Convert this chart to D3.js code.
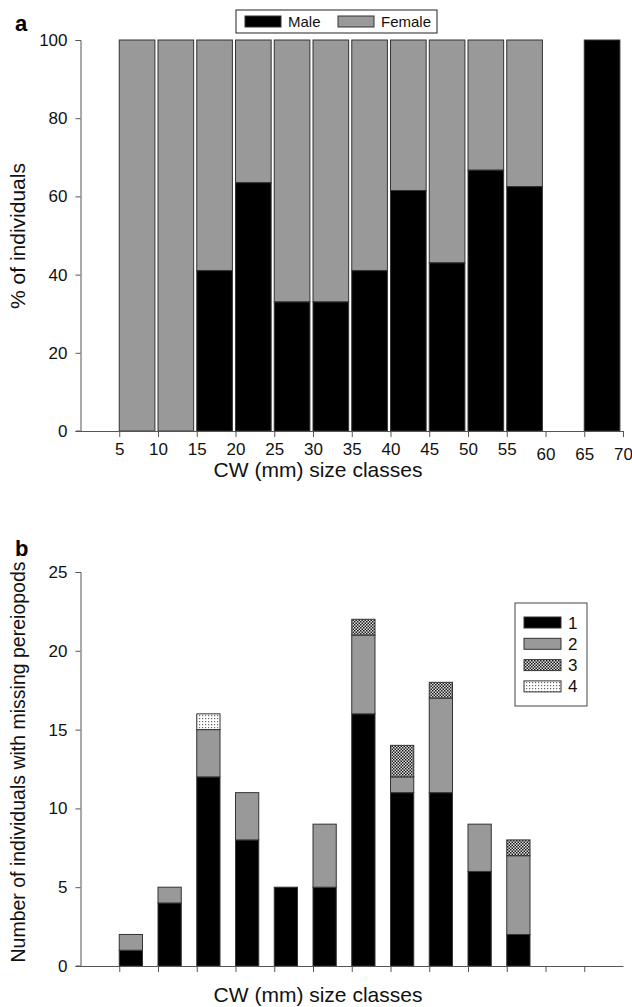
<!DOCTYPE html>
<html>
<head>
<meta charset="utf-8">
<script src="https://cdn.jsdelivr.net/npm/d3@7"></script>
<style>
  body { margin: 0; background: #fff; }
  text { font-family: "Liberation Sans", Arial, sans-serif; }
</style>
</head>
<body>
<svg id="chart" width="632" height="1007"></svg>
<script>
// panel a: sex ratio per CW size class
var classStartA = [5, 10, 15, 20, 25, 30, 35, 40, 45, 50, 55, 65]
var malePct = [0, 0, 41, 63.5, 33, 33, 41, 61.5, 43, 66.7, 62.5, 100]
var xTicksA = [5, 10, 15, 20, 25, 30, 35, 40, 45, 50, 55, 60, 65, 70]
var yTicksA = [0, 20, 40, 60, 80, 100]

// panel b: number of missing pereiopods per size class
var classStartB = [5, 10, 15, 20, 25, 30, 35, 40, 45, 50, 55]
var missing1 = [1, 4, 12, 8, 5, 5, 16, 11, 11, 6, 2]
var missing2 = [1, 1, 3, 3, 0, 4, 5, 1, 6, 3, 5]
var missing3 = [0, 0, 0, 0, 0, 0, 1, 2, 1, 0, 1]
var missing4 = [0, 0, 1, 0, 0, 0, 0, 0, 0, 0, 0]
var seriesB = ["1", "2", "3", "4"]
var xTicksB = [5, 10, 15, 20, 25, 30, 35, 40, 45, 50, 55, 60, 65]
var yTicksB = [0, 5, 10, 15, 20, 25]

var svg = d3.select("#chart")
var defs = svg.append("defs")

// crosshatch for "3"
var p3 = defs.append("pattern").attr("id", "hatch3")
  .attr("patternUnits", "userSpaceOnUse").attr("width", 3).attr("height", 3)
p3.append("rect").attr("width", 3).attr("height", 3).attr("fill", "#e0e0e0")
p3.append("rect").attr("x", 0).attr("y", 0).attr("width", 1.5).attr("height", 1.5).attr("fill", "#1a1a1a")
p3.append("rect").attr("x", 1.5).attr("y", 1.5).attr("width", 1.5).attr("height", 1.5).attr("fill", "#1a1a1a")

// dots for "4"
var p4 = defs.append("pattern").attr("id", "dots4")
  .attr("patternUnits", "userSpaceOnUse").attr("width", 3).attr("height", 3)
p4.append("rect").attr("width", 3).attr("height", 3).attr("fill", "#fff")
p4.append("rect").attr("x", 1).attr("y", 1).attr("width", 1.2).attr("height", 1.2).attr("fill", "#666")

var fills = ["#000", "#999", "url(#hatch3)", "url(#dots4)"]
var edge = "#333"

var xScale = d3.scaleLinear().domain([0, 70]).range([80.5, 623])

// ---------- panel a ----------
var yA = d3.scaleLinear().domain([0, 100]).range([431, 40])
var barWA = 4.6

var gA = svg.append("g")
var barsA = gA.selectAll(".barA").data(classStartA.map(function(c, i) { return {c: c, m: malePct[i]} }))
  .enter().append("g")
barsA.append("rect")
  .attr("x", function(d) { return xScale(d.c) })
  .attr("width", function(d) { return xScale(d.c + barWA) - xScale(d.c) })
  .attr("y", function(d) { return yA(100) })
  .attr("height", function(d) { return yA(d.m) - yA(100) })
  .attr("fill", fills[1]).attr("stroke", edge).attr("stroke-width", 1)
barsA.append("rect")
  .attr("x", function(d) { return xScale(d.c) })
  .attr("width", function(d) { return xScale(d.c + barWA) - xScale(d.c) })
  .attr("y", function(d) { return yA(d.m) })
  .attr("height", function(d) { return yA(0) - yA(d.m) })
  .attr("fill", fills[0]).attr("stroke", edge).attr("stroke-width", 1)

var yAxisA = gA.append("g").attr("transform", "translate(80.5,0)")
  .call(d3.axisLeft(yA).tickValues(yTicksA).tickSize(5).tickPadding(8))
var xAxisA = gA.append("g").attr("transform", "translate(0,431)")
  .call(d3.axisBottom(xScale).tickValues(xTicksA).tickSize(6).tickSizeOuter(0).tickPadding(6))
// the last three labels sit a little lower in the original
xAxisA.selectAll(".tick text").filter(function(d) { return d >= 60 }).attr("dy", "1.0em")

// ---------- panel b ----------
var yB = d3.scaleLinear().domain([0, 25]).range([966, 572])
var barWB = 3

var tableB = classStartB.map(function(c, i) {
  return {c: c, "1": missing1[i], "2": missing2[i], "3": missing3[i], "4": missing4[i]}
})
var stackB = d3.stack().keys(seriesB)(tableB)

var gB = svg.append("g")
gB.selectAll(".layer").data(stackB).enter().append("g")
  .attr("fill", function(d, i) { return fills[i] })
  .selectAll("rect").data(function(d) { return d.filter(function(s) { return s[1] > s[0] }) })
  .enter().append("rect")
    .attr("x", function(s) { return xScale(s.data.c) })
    .attr("width", function(s) { return xScale(s.data.c + barWB) - xScale(s.data.c) })
    .attr("y", function(s) { return yB(s[1]) })
    .attr("height", function(s) { return yB(s[0]) - yB(s[1]) })
    .attr("stroke", edge).attr("stroke-width", 1)

var yAxisB = gB.append("g").attr("transform", "translate(80.5,0)")
  .call(d3.axisLeft(yB).tickValues(yTicksB).tickSize(5).tickPadding(8))
var xAxisB = gB.append("g").attr("transform", "translate(0,966)")
  .call(d3.axisBottom(xScale).tickValues(xTicksB).tickSize(6).tickSizeOuter(0).tickFormat(""))

// axis styling
svg.selectAll(".domain, .tick line").attr("stroke", "#555").attr("stroke-width", 1)
svg.selectAll(".tick text").attr("font-size", 17).attr("fill", "#111")
  .attr("font-family", "'Liberation Sans', Arial, sans-serif")

// x-axis lines start a bit left of the y axis
gA.append("line").attr("x1", 76).attr("x2", xScale(0)).attr("y1", 431).attr("y2", 431).attr("stroke", "#555")
gB.append("line").attr("x1", 76).attr("x2", xScale(0)).attr("y1", 966).attr("y2", 966).attr("stroke", "#555")

// ---------- labels ----------
svg.append("text").attr("x", 15).attr("y", 31).attr("font-size", 22).attr("font-weight", "bold").text("a")
svg.append("text").attr("x", 15).attr("y", 556).attr("font-size", 22).attr("font-weight", "bold").text("b")

svg.append("text").attr("x", 318).attr("y", 477).attr("text-anchor", "middle").attr("font-size", 21).attr("fill", "#111")
  .text("CW (mm) size classes")
svg.append("text").attr("x", 318).attr("y", 1002).attr("text-anchor", "middle").attr("font-size", 21).attr("fill", "#111")
  .text("CW (mm) size classes")

svg.append("text").attr("transform", "translate(25,236)rotate(-90)").attr("text-anchor", "middle")
  .attr("font-size", 21).attr("fill", "#111").text("% of individuals")
svg.append("text").attr("transform", "translate(25,762)rotate(-90)").attr("text-anchor", "middle")
  .attr("font-size", 19.5).attr("fill", "#111").text("Number of individuals with missing pereiopods")

// legend a
var legA = svg.append("g")
legA.append("rect").attr("x", 236).attr("y", 10).attr("width", 201).attr("height", 23)
  .attr("fill", "#fff").attr("stroke", "#222")
var legAItems = [{name: "Male", x: 245}, {name: "Female", x: 338}]
legAItems.forEach(function(d, i) {
  legA.append("rect").attr("x", d.x).attr("y", 16).attr("width", 36).attr("height", 11)
    .attr("fill", fills[i]).attr("stroke", edge)
  legA.append("text").attr("x", d.x + 43).attr("y", 27).attr("font-size", 15).attr("fill", "#111").text(d.name)
})

// legend b
var legB = svg.append("g")
legB.append("rect").attr("x", 515).attr("y", 603).attr("width", 72).attr("height", 103)
  .attr("fill", "#fff").attr("stroke", "#444")
seriesB.forEach(function(s, i) {
  var y = 617 + i * 21.3
  legB.append("rect").attr("x", 524).attr("y", y).attr("width", 37).attr("height", 11)
    .attr("fill", fills[i]).attr("stroke", edge)
  legB.append("text").attr("x", 568).attr("y", y + 11.5).attr("font-size", 17).attr("fill", "#111").text(s)
})
</script>
</body>
</html>
